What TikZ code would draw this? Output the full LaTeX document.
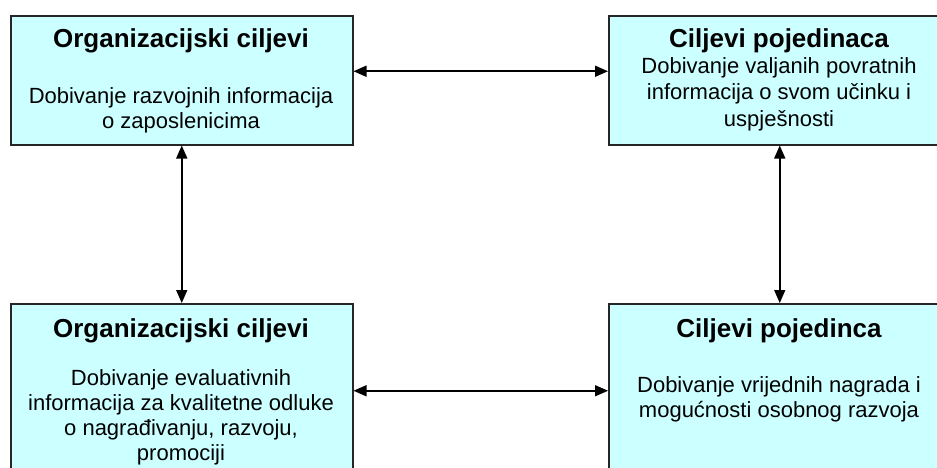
\documentclass[tikz,border=0pt]{standalone}
\usepackage{fontspec}
\setmainfont{Liberation Sans}
\usetikzlibrary{arrows.meta,positioning}
\definecolor{goalfill}{HTML}{CCFFFF}
\tikzset{
goal/.style={draw=black!85,line width=1.5pt,fill=goalfill,minimum width=342pt,inner sep=0pt,anchor=north west},
head/.style={font=\fontsize{26}{30}\selectfont\bfseries,inner sep=0pt,anchor=base},
body/.style={font=\fontsize{22}{25}\selectfont,align=center,inner sep=0pt,anchor=base},
link/.style={{Triangle[length=13pt,width=11pt]}-{Triangle[length=13pt,width=11pt]},line width=1.6pt}
}
\begin{document}
\begin{tikzpicture}[x=1pt,y=-1pt]
\useasboundingbox(0,0)rectangle(937,467);
\clip(0,0)rectangle(937,467);
\fill[white](0,0)rectangle(937,467);
\node[goal,minimum height=129pt](orgA)at(10,15){};
\node[goal,minimum height=129pt](indA)at(608,15){};
\node[goal,minimum height=174pt](orgB)at(10,303){};
\node[goal,minimum height=174pt](indB)at(608,303){};
\node[head](orgAt)at(181,47){Organizacijski ciljevi};
\node[body](orgAb)at(181,128){Dobivanje razvojnih informacija\\o zaposlenicima};
\node[head](indAt)at(779,47){Ciljevi pojedinaca};
\node[body,font=\fontsize{22}{26.5}\selectfont](indAb)at(779,126){Dobivanje valjanih povratnih\\informacija o svom učinku i\\uspješnosti};
\node[head](orgBt)at(181,337){Organizacijski ciljevi};
\node[body](orgBb)at(181,460){Dobivanje evaluativnih\\informacija za kvalitetne odluke\\o nagrađivanju, razvoju,\\promociji};
\node[head](indBt)at(779,337){Ciljevi pojedinca};
\node[body](indBb)at(779,417){Dobivanje vrijednih nagrada i\\mogućnosti osobnog razvoja};
\draw[link]([yshift=9pt]orgA.east)--([yshift=9pt]indA.west);
\draw[link](orgA.south)--(orgB.north);
\draw[link](indA.south)--(indB.north);
\draw[link](orgB.east)--(indB.west);
\end{tikzpicture}
\end{document}
